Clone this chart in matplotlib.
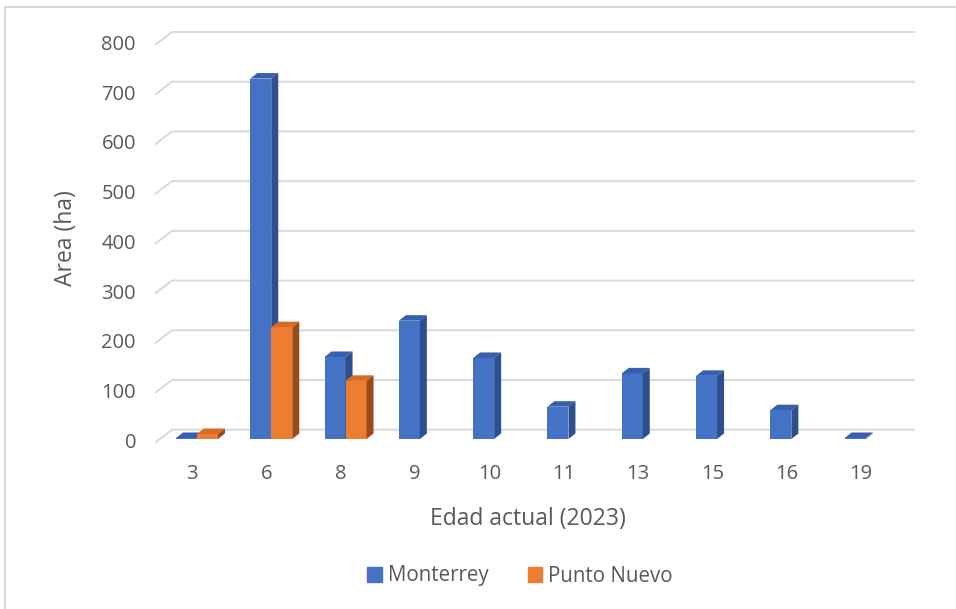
import matplotlib
matplotlib.use('Agg')
import matplotlib.pyplot as plt
from matplotlib.patches import Polygon, Patch
from matplotlib.lines import Line2D

# area por edad de plantacion y procedencia
edades = ['3', '6', '8', '9', '10', '11', '13', '15', '16', '19']
monterrey = [2, 725, 165, 238, 163, 65, 132, 127, 58, 2]
punto_nuevo = [10, 225, 117, 0, 0, 0, 0, 0, 0, 0]
yticks = [0, 100, 200, 300, 400, 500, 600, 700, 800]

# colores: frente, arriba, costado
AZUL = ('#4472C4', '#3660AE', '#2D4F8E')
NARANJA = ('#ED7D31', '#D56B25', '#9C4A1B')
GRIS = '#595959'
GRID = '#d9d9d9'

plt.rcParams['font.family'] = ['Open Sans', 'DejaVu Sans']

W, H = 956, 609
fig = plt.figure(figsize=(W / 100, H / 100), dpi=100)
x_front, x_right = 155, 898
y_zero, y_top = 442.7, 45
ax = fig.add_axes([x_front / W, (H - y_zero) / H,
                   (x_right - x_front) / W, (y_zero - y_top) / H])
ax.set_xlim(-0.5, len(edades) - 0.5)
ax.set_ylim(0, 800)
ax.axis('off')

# pixeles por unidad de datos
ppx = (x_right - x_front) / len(edades)
ppy = (y_zero - y_top) / 800.0

# profundidad de la pared y de las columnas (pixeles)
wall_dx, wall_dy = 17 / ppx, 13 / ppy
off_dx, off_dy = 4.8 / ppx, 3.7 / ppy
bar_dx, bar_dy = 7 / ppx, 5.5 / ppy
w = 21 / ppx

# lineas de la pared del fondo
xl, xr = -0.5, len(edades) - 0.5
for v in yticks:
    ax.plot([xl, xl + wall_dx, xr + wall_dx], [v, v + wall_dy, v + wall_dy],
            color=GRID, lw=1.4, clip_on=False, zorder=1,
            solid_capstyle='butt')
    ax.text(xl - 19 / ppx, v, str(v), ha='right', va='center',
            fontsize=14.5, color=GRIS)

for i, e in enumerate(edades):
    ax.text(i, -31 / ppy, e, ha='center', va='center', fontsize=14.5,
            color=GRIS)


def columnas(valores, k, colores, z):
    front, top, side = colores
    xs = [i + off_dx - w + k * w for i in range(len(valores))]
    ax.bar(xs, valores, width=w, bottom=off_dy, align='edge', color=front,
           linewidth=0, zorder=z)
    for x0, v in zip(xs, valores):
        if v <= 0:
            continue
        y1 = off_dy + v
        ax.add_patch(Polygon([(x0, y1), (x0 + w, y1),
                              (x0 + w + bar_dx, y1 + bar_dy),
                              (x0 + bar_dx, y1 + bar_dy)],
                             closed=True, color=top, lw=0, zorder=z))
        ax.add_patch(Polygon([(x0 + w, off_dy), (x0 + w + bar_dx,
                                                 off_dy + bar_dy),
                              (x0 + w + bar_dx, y1 + bar_dy), (x0 + w, y1)],
                             closed=True, color=side, lw=0, zorder=z))


columnas(monterrey, 0, AZUL, 2)
columnas(punto_nuevo, 1, NARANJA, 3)

fig.text(66 / W, 1 - 238 / H, 'Area (ha)', rotation=90, ha='center',
         va='center', fontsize=16.5, color=GRIS)
fig.text(528 / W, 1 - 519 / H, 'Edad actual (2023)', ha='center',
         va='center', fontsize=16.5, color=GRIS)

handles = [Patch(color=AZUL[0], label='Monterrey'),
           Patch(color=NARANJA[0], label='Punto Nuevo')]
fig.legend(handles=handles, loc='center', ncol=2,
           bbox_to_anchor=(520 / W, 1 - 576 / H), frameon=False,
           fontsize=14.8, labelcolor=GRIS, handlelength=0.7,
           handleheight=0.7, handletextpad=0.3, columnspacing=1.9)

# marco del grafico
fig.add_artist(Line2D([5 / W, 5 / W, 1.0], [0.0, 1 - 7 / H, 1 - 7 / H],
                      color=GRID, lw=1.5))

fig.savefig('out.png', dpi=100)
